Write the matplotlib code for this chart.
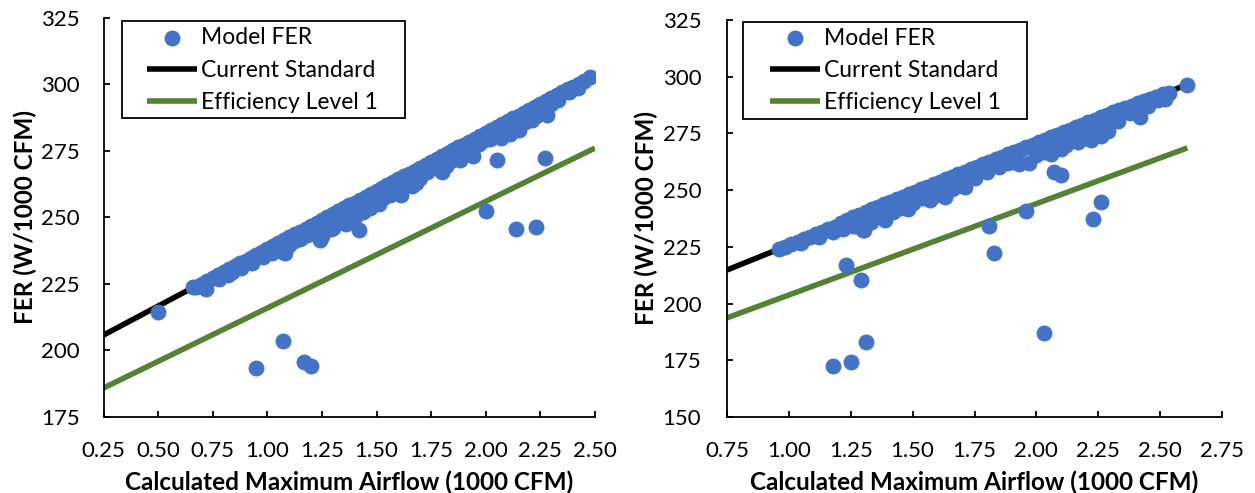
import matplotlib
matplotlib.use("Agg")
import matplotlib.pyplot as plt
from matplotlib.patches import Rectangle

plt.rcParams['font.family'] = ['Lato', 'DejaVu Sans']

BLUE = "#4472C4"
GREEN = "#548235"

# ---------------- Left panel data ----------------
# dense band of models right at the current standard
left_band_x = [0.675, 0.70, 0.725, 0.75, 0.775, 0.80, 0.825, 0.85, 0.875, 0.90, 0.925, 0.95,
               0.975, 1.00, 1.025, 1.05, 1.075, 1.10, 1.125, 1.15, 1.175, 1.20, 1.225, 1.25,
               1.275, 1.30, 1.325, 1.35, 1.375, 1.40, 1.425, 1.45, 1.475, 1.50, 1.525, 1.55,
               1.575, 1.60, 1.625, 1.65, 1.675, 1.70, 1.725, 1.75, 1.775, 1.80, 1.825, 1.85,
               1.875, 1.90, 1.925, 1.95, 1.975, 2.00, 2.025, 2.05, 2.075, 2.10, 2.125, 2.15,
               2.175, 2.20, 2.225, 2.25, 2.275, 2.30, 2.325, 2.35, 2.375, 2.40, 2.425, 2.45,
               2.475]
left_band_y = [224.0, 225.0, 226.2, 227.3, 228.4, 229.5, 230.6, 231.7, 232.8, 233.8, 234.9, 236.0,
               237.1, 238.2, 239.3, 240.4, 241.5, 242.6, 243.7, 244.7, 245.8, 246.9, 248.0, 249.1,
               250.2, 251.3, 252.4, 253.5, 254.6, 255.6, 256.7, 257.8, 258.9, 260.0, 261.1, 262.2,
               263.3, 264.4, 265.5, 266.5, 267.6, 268.7, 269.8, 270.9, 272.0, 273.1, 274.2, 275.3,
               276.4, 277.4, 278.5, 279.6, 280.7, 281.8, 282.9, 284.0, 285.1, 286.2, 287.3, 288.3,
               289.4, 290.5, 291.6, 292.7, 293.8, 294.9, 296.0, 297.1, 298.2, 299.2, 300.3, 301.4,
               302.8]
# models just below the band (thickening it)
left_mid_x = [0.78, 0.82, 0.88, 0.98, 1.02, 1.05, 1.10, 1.15, 1.18, 1.22, 1.27, 1.29, 1.33,
              1.36, 1.40, 1.43, 1.47, 1.53, 1.56, 1.59, 1.63, 1.73, 1.77, 1.82, 1.86, 1.88,
              1.92, 1.97, 2.02, 2.08, 2.11, 2.15, 2.19, 2.21, 2.26, 2.30, 2.33, 2.38, 2.42]
left_mid_y = [227.0, 228.5, 231.0, 235.0, 236.5, 238.0, 239.5, 242.0, 243.5, 244.5, 246.0, 245.5, 248.5,
              247.5, 250.0, 252.5, 253.5, 257.5, 258.5, 260.0, 262.0, 267.0, 268.5, 269.5, 272.0, 271.5,
              275.0, 277.5, 279.5, 281.0, 281.5, 283.0, 287.0, 286.5, 290.5, 292.5, 294.0, 297.0, 298.5]
# models further below the band
left_off_x = [0.50, 0.66, 0.72, 0.84, 0.86, 0.93, 1.07, 1.08, 1.12, 1.20, 1.24, 1.25, 1.30,
              1.31, 1.35, 1.37, 1.38, 1.42, 1.44, 1.45, 1.48, 1.50, 1.51, 1.61, 1.66, 1.68,
              1.70, 1.80, 1.83, 1.90, 1.94, 1.99, 2.07, 2.10, 2.12, 2.13, 2.18, 2.23, 2.28,
              0.95, 1.07, 1.17, 1.20, 2.00, 2.14, 2.23, 2.05, 2.27]
left_off_y = [214.5, 224.0, 223.0, 229.6, 231.0, 233.0, 237.0, 236.6, 241.0, 244.0, 241.5, 243.0, 246.0,
              249.0, 248.0, 251.0, 250.0, 245.3, 252.0, 254.0, 256.0, 257.0, 255.0, 258.5, 262.0, 263.0,
              265.0, 267.0, 271.0, 274.0, 273.0, 279.0, 280.0, 282.0, 285.0, 283.0, 286.0, 288.0, 288.6,
              193.5, 203.5, 195.7, 194.0, 252.6, 245.5, 246.3, 271.5, 272.5]

left_std_x = [0.25, 2.50]
left_std_y = [205.8, 303.9]
left_el1_x = [0.25, 2.50]
left_el1_y = [185.9, 276.1]

left_xticks = [0.25, 0.50, 0.75, 1.00, 1.25, 1.50, 1.75, 2.00, 2.25, 2.50]
left_yticks = [175, 200, 225, 250, 275, 300, 325]

# ---------------- Right panel data ----------------
right_band_x = [0.96, 0.985, 1.01, 1.035, 1.06, 1.085, 1.11, 1.135, 1.16, 1.185, 1.21, 1.235,
                1.26, 1.285, 1.31, 1.335, 1.36, 1.385, 1.41, 1.435, 1.46, 1.485, 1.51, 1.535,
                1.56, 1.585, 1.61, 1.635, 1.66, 1.685, 1.71, 1.735, 1.76, 1.785, 1.81, 1.835,
                1.86, 1.885, 1.91, 1.935, 1.96, 1.985, 2.01, 2.035, 2.06, 2.085, 2.11, 2.135,
                2.16, 2.185, 2.21, 2.235, 2.26, 2.285, 2.31, 2.335, 2.36, 2.385, 2.41, 2.435,
                2.46, 2.485, 2.51, 2.535, 2.61]
right_band_y = [224.0, 225.1, 226.2, 227.3, 228.4, 229.5, 230.6, 231.7, 232.8, 233.9, 235.5, 236.8,
                238.0, 239.2, 240.4, 241.5, 242.6, 243.7, 244.8, 245.9, 247.0, 248.1, 249.2, 250.3,
                251.4, 252.5, 253.6, 254.7, 255.8, 256.9, 258.0, 259.1, 260.2, 261.3, 262.4, 263.5,
                264.6, 265.7, 266.8, 267.9, 269.0, 270.1, 271.2, 272.3, 273.4, 274.5, 275.6, 276.7,
                277.8, 278.9, 280.0, 281.1, 282.2, 283.3, 284.4, 285.3, 286.3, 287.2, 288.3, 289.3,
                290.3, 291.2, 292.2, 293.0, 296.5]
right_mid_x = [1.05, 1.12, 1.18, 1.22, 1.26, 1.33, 1.37, 1.42, 1.46, 1.50, 1.54, 1.60, 1.66,
               1.68, 1.75, 1.80, 1.85, 1.90, 2.00, 2.03, 2.08, 2.12, 2.16, 2.20, 2.24, 2.28,
               2.33, 2.38, 2.45, 2.52]
right_mid_y = [226.5, 229.5, 231.5, 233.0, 234.0, 236.0, 238.5, 240.5, 243.0, 244.5, 246.5, 248.0, 250.5,
               252.0, 255.5, 258.0, 260.0, 262.5, 265.5, 267.0, 268.5, 270.0, 272.5, 273.0, 275.0, 278.5,
               280.5, 284.0, 287.0, 290.0]
right_off_x = [1.27, 1.30, 1.305, 1.35, 1.39, 1.45, 1.48, 1.57, 1.62, 1.63, 1.66, 1.71,
               1.88, 1.93, 1.97, 2.06, 2.10, 2.14, 2.17, 2.19, 2.22, 2.26, 2.29, 2.42, 2.49,
               1.18, 1.25, 1.31, 1.23, 1.29, 1.81, 1.83, 1.96, 2.03, 2.23, 2.26, 2.07, 2.10]
right_off_y = [234.0, 232.5, 232.4, 238.0, 236.8, 242.0, 241.5, 245.6, 250.0, 247.0, 252.0, 251.2,
               262.0, 261.3, 262.0, 266.0, 268.0, 272.0, 271.0, 274.0, 272.0, 274.0, 276.0, 282.4, 289.7,
               172.4, 174.3, 183.1, 217.2, 210.3, 234.1, 222.1, 240.7, 187.2, 237.2, 244.6, 258.0, 256.5]

right_std_x = [0.75, 2.61]
right_std_y = [214.8, 296.6]
right_el1_x = [0.75, 2.61]
right_el1_y = [193.7, 268.6]

right_xticks = [0.75, 1.00, 1.25, 1.50, 1.75, 2.00, 2.25, 2.50, 2.75]
right_yticks = [150, 175, 200, 225, 250, 275, 300, 325]

x_label = "Calculated Maximum Airflow (1000 CFM)"
y_label = "FER (W/1000 CFM)"
labels = ["Model FER", "Current Standard", "Efficiency Level 1"]

fig = plt.figure(figsize=(12.55, 4.93), dpi=100)
ax1 = fig.add_axes([0.0825, 0.1542, 0.3916, 0.8093])
ax2 = fig.add_axes([0.5793, 0.1542, 0.3944, 0.8053])


def draw(ax, xs, ys, sx, sy, ex, ey, xt, yt, ypad, legpos, frame):
    ax.plot(sx, sy, color="black", lw=4, solid_capstyle="butt", label=labels[1], zorder=2)
    ax.plot(ex, ey, color=GREEN, lw=4, solid_capstyle="butt", label=labels[2], zorder=2)
    ax.scatter(xs, ys, s=118, color=BLUE, edgecolors=BLUE, linewidths=0.6,
               label=labels[0], zorder=3)
    ax.set_xlim(xt[0], xt[-1])
    ax.set_ylim(yt[0], yt[-1])
    ax.set_xticks(xt)
    ax.set_xticklabels([f"{v:.2f}" for v in xt])
    ax.set_yticks(yt)
    ax.set_yticklabels([str(v) for v in yt])
    for s in ["top", "right"]:
        ax.spines[s].set_visible(False)
    for s in ["left", "bottom"]:
        ax.spines[s].set_linewidth(1.3)
        ax.spines[s].set_color("black")
    ax.tick_params(axis="both", direction="in", length=4.5, width=1.3, labelsize=16, colors="black")
    ax.tick_params(axis="x", pad=17)
    ax.tick_params(axis="y", pad=ypad)
    ax.set_xlabel(x_label, fontsize=17.5, fontweight="bold", labelpad=7)
    ax.set_ylabel(y_label, fontsize=17.5, fontweight="bold", labelpad=3)
    h, l = ax.get_legend_handles_labels()
    order = [l.index(t) for t in labels]
    ax.legend([h[i] for i in order], [l[i] for i in order], loc="upper left",
              bbox_to_anchor=legpos, fontsize=16.5, frameon=False,
              handlelength=2.2, handletextpad=0.15, labelspacing=0.5,
              borderpad=0, borderaxespad=0, scatterpoints=1)
    ax.add_patch(Rectangle((frame[0], frame[1]), frame[2], frame[3], transform=ax.transAxes,
                           fill=False, edgecolor="black", lw=1.3, zorder=5, clip_on=False))


draw(ax1, left_band_x + left_mid_x + left_off_x, left_band_y + left_mid_y + left_off_y,
     left_std_x, left_std_y, left_el1_x, left_el1_y,
     left_xticks, left_yticks, 17, (0.0885, 0.977), (0.0376, 0.749, 0.5758, 0.2435))
draw(ax2, right_band_x + right_mid_x + right_off_x, right_band_y + right_mid_y + right_off_y,
     right_std_x, right_std_y, right_el1_x, right_el1_y,
     right_xticks, right_yticks, 18.5, (0.0865, 0.981), (0.0317, 0.7506, 0.5743, 0.2444))

fig.savefig("out.png", dpi=100, facecolor="white")
